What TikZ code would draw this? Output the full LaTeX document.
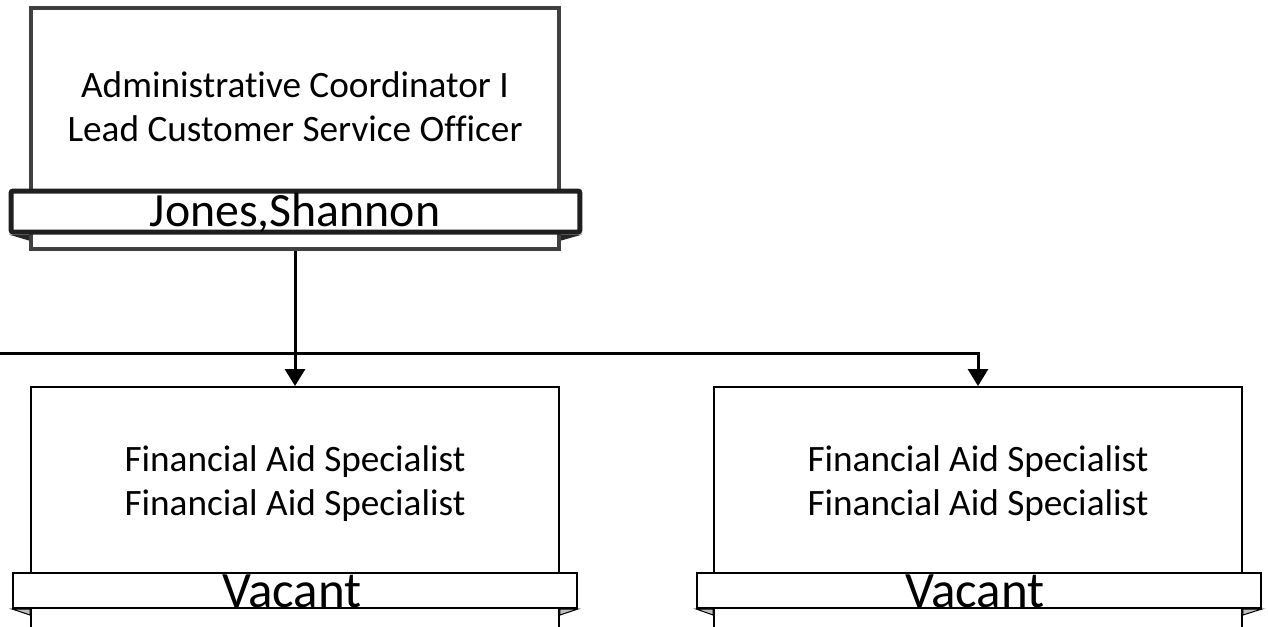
\documentclass[tikz,border=0pt]{standalone}
\usepackage{fontspec}
\setmainfont{Carlito}[Ligatures=NoCommon]
\usetikzlibrary{arrows.meta,positioning}
\definecolor{boxgray}{HTML}{404040}
\definecolor{shadowgray}{HTML}{BFBFBF}

\tikzset{
  px/.style={x=0.02cm, y=-0.02cm},
  topbox/.style={draw=boxgray, line width=0.09cm, minimum width=10.56cm, minimum height=4.82cm, inner sep=0pt},
  topbar/.style={draw=black!88, line width=0.1cm, fill=white, rounded corners=0.04cm, minimum width=11.38cm, minimum height=0.82cm, inner sep=0pt},
  subbox/.style={draw=black, line width=0.04cm, minimum width=10.56cm, minimum height=5.2cm, inner sep=0pt},
  subbar/.style={draw=black, line width=0.04cm, fill=white, minimum width=11.28cm, minimum height=0.7cm, inner sep=0pt},
  titletext/.style={font=\fontsize{21.2}{25}\selectfont, align=center, inner sep=0pt},
  nametext/.style={font=\fontsize{27.2}{30}\selectfont, anchor=base, inner sep=0pt},
  link/.style={line width=0.06cm, -{Triangle[width=0.4cm, length=0.34cm]}},
}

\begin{document}
\begin{tikzpicture}[px]
 \useasboundingbox (0,0) rectangle (1268,626);
 \clip (0,0) rectangle (1268,626);

 % Boxes
 \node[topbox] (jonesbox) at (295,128.5) {};
 \node[subbox] (vacantboxA) at (295,517) {};
 \node[subbox] (vacantboxB) at (978,517) {};

 % Name bars with shadows
 \node[topbar] (jonesbar) at (295.5,211.5) {};
 \fill[black!85] (jonesbar.south west) -- (jonesbox.west |- jonesbar.south) -- ++(0,6) -- cycle;
 \fill[black!85] (jonesbar.south east) -- (jonesbox.east |- jonesbar.south) -- ++(0,6) -- cycle;
 \node[subbar] (vacantbarA) at (295,590.5) {};
 \node[subbar] (vacantbarB) at (979,590.5) {};
 \foreach \b/\s in {vacantboxA/vacantbarA, vacantboxB/vacantbarB} {
   \filldraw[fill=shadowgray, draw=black, line width=0.02cm] (\s.south west) -- (\b.west |- \s.south) -- ++(0,6) -- cycle;
   \filldraw[fill=shadowgray, draw=black, line width=0.02cm] (\s.south east) -- (\b.east |- \s.south) -- ++(0,6) -- cycle;
 }

 % Titles
 \node[titletext] (jonestitle) at (295,107) {Administrative Coordinator I\\Lead Customer Service Officer};
 \node[titletext] (vacanttitleA) at (295,483.5) {Financial Aid Specialist\\Financial Aid Specialist};
 \node[titletext] (vacanttitleB) at (978,483.5) {Financial Aid Specialist\\Financial Aid Specialist};

 % Names
 \node[nametext] (jonesname) at (295,226) {Jones,Shannon};
 \node[nametext, font=\fontsize{29}{32}\selectfont] (vacantnameA) at (292,607) {Vacant};
 \node[nametext, font=\fontsize{29}{32}\selectfont] (vacantnameB) at (975,607) {Vacant};

 % Connectors
 \coordinate (feed) at (0,353);
 \draw[link] (jonesbox.south) -- (vacantboxA.north);
 \draw[link] (feed) -| (vacantboxB.north);
\end{tikzpicture}
\end{document}
